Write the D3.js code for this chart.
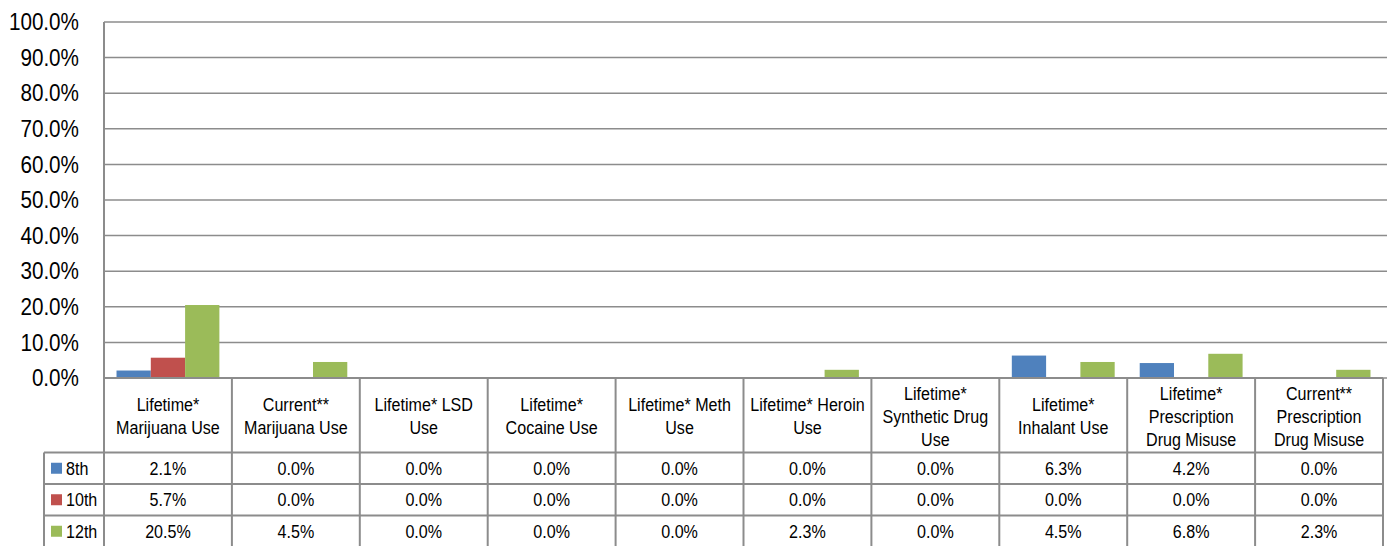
<!DOCTYPE html>
<html><head><meta charset="utf-8">
<script src="https://cdn.jsdelivr.net/npm/d3@7"></script>
<style>
html,body{margin:0;padding:0;background:#fff;}
svg text{font-family:"Liberation Sans",Arial,sans-serif;fill:#000;}
</style></head>
<body>
<svg id="chart" width="1387" height="546"></svg>
<script>
const categories = [
  ["Lifetime*","Marijuana Use"],
  ["Current**","Marijuana Use"],
  ["Lifetime* LSD","Use"],
  ["Lifetime*","Cocaine Use"],
  ["Lifetime* Meth","Use"],
  ["Lifetime* Heroin","Use"],
  ["Lifetime*","Synthetic Drug","Use"],
  ["Lifetime*","Inhalant Use"],
  ["Lifetime*","Prescription","Drug Misuse"],
  ["Current**","Prescription","Drug Misuse"]
];
const seriesNames = ["8th","10th","12th"];
const grade8  = [2.1,0.0,0.0,0.0,0.0,0.0,0.0,6.3,4.2,0.0];
const grade10 = [5.7,0.0,0.0,0.0,0.0,0.0,0.0,0.0,0.0,0.0];
const grade12 = [20.5,4.5,0.0,0.0,0.0,2.3,0.0,4.5,6.8,2.3];
const yTicks = [0,10,20,30,40,50,60,70,80,90,100];
const colors = ["#4F81BD","#C0504D","#9BBB59"];

const series = [grade8, grade10, grade12];
const svg = d3.select("#chart");
const pLeft = 104, pRight = 1383, pTop = 22, pBase = 378;
const headerBottom = 452.5, rowH = 31.5, tableLeft = 44;
const gridColor = "#8c8c8c";
const SX = 0.87, FS = 18.5;

const x = d3.scaleBand().domain(d3.range(categories.length)).range([pLeft, pRight]).paddingInner(0).paddingOuter(0);
const y = d3.scaleLinear().domain([0,100]).range([pBase, pTop]);
const xs = d3.scaleBand().domain(d3.range(series.length)).range([0, x.bandwidth()]).paddingOuter(0.365).paddingInner(0);

// gridlines
svg.append("g").selectAll("line").data(yTicks).join("line")
  .attr("x1", pLeft).attr("x2", 1387)
  .attr("y1", d => y(d)).attr("y2", d => y(d))
  .attr("stroke", gridColor).attr("stroke-width", 1.5);

// y axis labels
const yAxis = d3.axisLeft(y).tickValues(yTicks).tickFormat(d => d.toFixed(1) + "%").tickSize(0).tickPadding(0);
const ya = svg.append("g").attr("transform", `translate(${pLeft},0)`).call(yAxis);
ya.select(".domain").remove();
ya.selectAll("text")
  .attr("x", 0).attr("dy","0.33em")
  .attr("transform", `translate(-25,0) scale(0.88,1)`)
  .attr("fill","#000")
  .style("font-size","23.5px")
  .style("font-family",'"Liberation Sans",Arial,sans-serif');

// bars
series.forEach((vals, si) => {
  svg.append("g").selectAll("rect").data(vals).join("rect")
    .attr("x", (d,i) => x(i) + xs(si))
    .attr("width", xs.bandwidth())
    .attr("y", d => y(d))
    .attr("height", d => pBase - y(d))
    .attr("fill", colors[si]);
});

// table lines
const tg = svg.append("g");
tg.append("line").attr("x1", pLeft).attr("x2", pLeft).attr("y1", pTop).attr("y2", 546)
  .attr("stroke", gridColor).attr("stroke-width", 2);
tg.append("line").attr("x1", pLeft).attr("x2", pRight).attr("y1", pBase).attr("y2", pBase)
  .attr("stroke", gridColor).attr("stroke-width", 2);
for (let r = 0; r < 3; r++) {
  tg.append("line").attr("x1", tableLeft).attr("x2", pRight)
    .attr("y1", headerBottom + r*rowH).attr("y2", headerBottom + r*rowH)
    .attr("stroke", gridColor).attr("stroke-width", 2);
}
tg.append("line").attr("x1", tableLeft).attr("x2", tableLeft).attr("y1", headerBottom).attr("y2", 546)
  .attr("stroke", gridColor).attr("stroke-width", 2);
d3.range(1, categories.length + 1).forEach(i => {
  const xx = i < categories.length ? x(i) : pRight;
  tg.append("line").attr("x1", xx).attr("x2", xx).attr("y1", pBase).attr("y2", 546)
    .attr("stroke", gridColor).attr("stroke-width", 2);
});

// header labels
const lineH = 23, headerMid = (pBase + headerBottom) / 2 + 1;
categories.forEach((lines, i) => {
  const cx = x(i) + x.bandwidth()/2;
  const g = svg.append("g").attr("transform", `translate(${cx},${headerMid}) scale(${SX},1)`);
  const t = g.append("text").attr("text-anchor","middle").style("font-size", FS + "px");
  const y0 = -(lines.length - 1) * lineH / 2;
  lines.forEach((ln, k) => {
    t.append("tspan").attr("x", 0).attr("y", y0 + k*lineH).attr("dy","0.36em").text(ln);
  });
});

// data rows
series.forEach((vals, si) => {
  const cy = headerBottom + si*rowH + rowH/2;
  svg.append("rect").attr("x", 51).attr("y", cy - 5.5).attr("width", 11).attr("height", 11).attr("fill", colors[si]);
  svg.append("g").attr("transform", `translate(66,${cy}) scale(${SX},1)`)
    .append("text").attr("dy","0.36em").style("font-size", FS + "px").text(seriesNames[si]);
  svg.append("g").selectAll("g").data(vals).join("g")
    .attr("transform", (d,i) => `translate(${x(i) + x.bandwidth()/2},${cy}) scale(${SX},1)`)
    .append("text").attr("dy","0.36em")
    .attr("text-anchor","middle").style("font-size", FS + "px")
    .text(d => d.toFixed(1) + "%");
});
</script>
</body></html>
